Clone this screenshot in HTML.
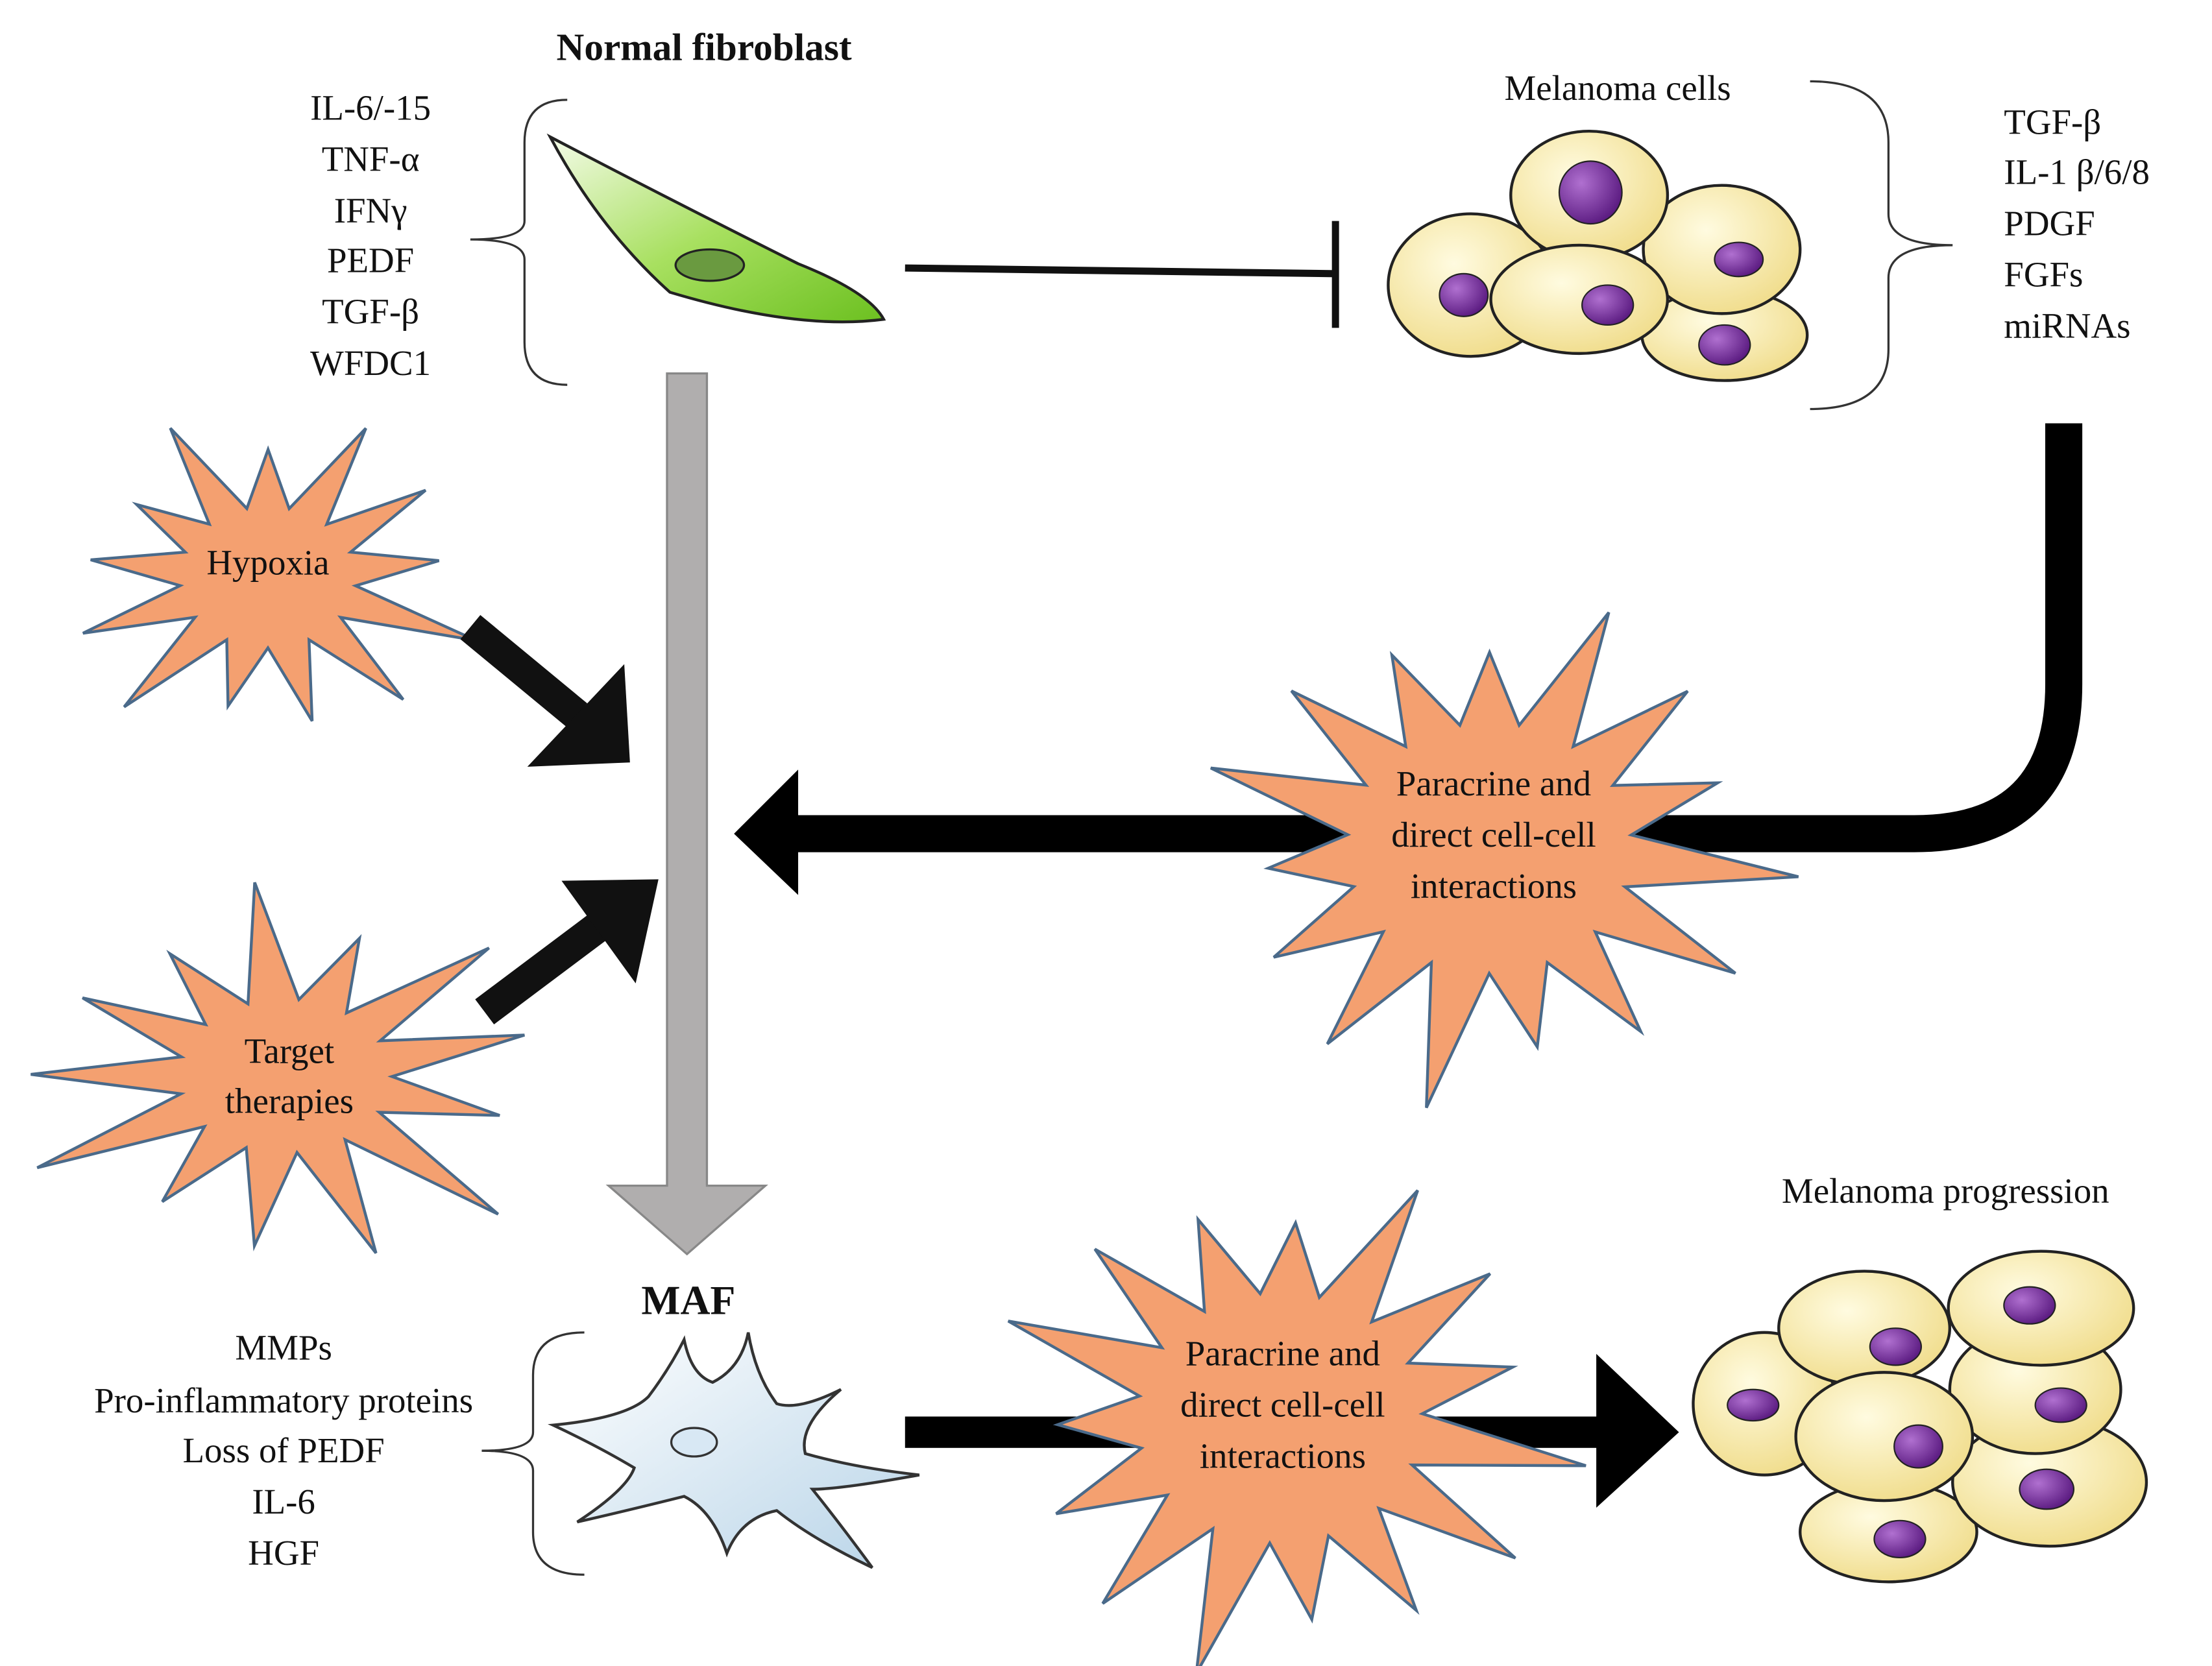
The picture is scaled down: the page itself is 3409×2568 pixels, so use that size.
<!DOCTYPE html>
<html><head><meta charset="utf-8"><style>
html,body{margin:0;padding:0;background:#fff}
svg{display:block}
text{font-family:"Liberation Serif",serif;fill:#111}
</style></head><body>
<svg id="s" width="3409" height="2568" viewBox="0 0 1552 1169" xmlns="http://www.w3.org/2000/svg">
<defs>
<linearGradient id="gr" x1="0" y1="0" x2="1" y2="1"><stop offset="0" stop-color="#f4fbe8"/><stop offset="0.5" stop-color="#a8e060"/><stop offset="1" stop-color="#6cc020"/></linearGradient>
<linearGradient id="bl" x1="0" y1="0" x2="1" y2="1"><stop offset="0" stop-color="#ffffff"/><stop offset="1" stop-color="#b8d4e8"/></linearGradient>
<radialGradient id="cell" cx="0.4" cy="0.35" r="0.7"><stop offset="0" stop-color="#fffbe0"/><stop offset="1" stop-color="#f0dc8a"/></radialGradient>
<radialGradient id="nuc" cx="0.35" cy="0.35" r="0.7"><stop offset="0" stop-color="#b070d0"/><stop offset="1" stop-color="#5a1a80"/></radialGradient>
</defs>
<g id="stars"></g>
<text x="494" y="42" font-size="27" font-weight="bold" text-anchor="middle">Normal fibroblast</text>
<g font-size="25" text-anchor="middle">
<text x="260" y="84">IL-6/-15</text><text x="260" y="120">TNF-α</text><text x="260" y="156">IFNγ</text>
<text x="260" y="191">PEDF</text><text x="260" y="227">TGF-β</text><text x="260" y="263">WFDC1</text>
</g>
<path d="M398,70 Q368,70 368,100 L368,155 Q368,168 330,168 Q368,168 368,182 L368,240 Q368,270 398,270" fill="none" stroke="#333" stroke-width="1.5"/>
<path d="M386,96 Q470,140 560,185 Q610,205 620,224 Q560,232 470,205 Q420,160 386,96 Z" fill="url(#gr)" stroke="#222" stroke-width="2"/>
<ellipse cx="498" cy="186" rx="24" ry="11" fill="#6a9a40" stroke="#222" stroke-width="1.5"/>
<line x1="635" y1="188" x2="937" y2="192" stroke="#111" stroke-width="5"/>
<line x1="937" y1="155" x2="937" y2="230" stroke="#111" stroke-width="5"/>
<text x="1135" y="70" font-size="25" text-anchor="middle">Melanoma cells</text>
<g stroke="#222" stroke-width="2" fill="url(#cell)">
<ellipse cx="1210" cy="235" rx="58" ry="32"/>
<ellipse cx="1208" cy="175" rx="55" ry="45"/>
<ellipse cx="1032" cy="200" rx="58" ry="50"/>
<ellipse cx="1115" cy="137" rx="55" ry="45"/>
<ellipse cx="1108" cy="210" rx="62" ry="38"/>
</g>
<g fill="url(#nuc)" stroke="#222">
<ellipse cx="1116" cy="135" rx="22" ry="22"/><ellipse cx="1220" cy="182" rx="17" ry="12"/>
<ellipse cx="1027" cy="207" rx="17" ry="15"/><ellipse cx="1128" cy="214" rx="18" ry="14"/><ellipse cx="1210" cy="242" rx="18" ry="14"/>
</g>
<path d="M1270,57 Q1325,57 1325,100 L1325,150 Q1325,172 1370,172 Q1325,172 1325,195 L1325,245 Q1325,287 1270,287" fill="none" stroke="#333" stroke-width="1.5"/>
<g font-size="25">
<text x="1406" y="94">TGF-β</text><text x="1406" y="129">IL-1 β/6/8</text><text x="1406" y="165">PDGF</text>
<text x="1406" y="201">FGFs</text><text x="1406" y="237">miRNAs</text>
</g>
<path d="M468,262 L496,262 L496,832 L537,832 L482,880 L427,832 L468,832 Z" fill="#b0aeae" stroke="#888" stroke-width="1.5"/>
<path d="M1448,297 L1448,480 Q1448,585 1343,585 L555,585" fill="none" stroke="#000" stroke-width="26"/>
<polygon points="515,585 560,540 560,628" fill="#000"/>
<line x1="330" y1="440" x2="405" y2="502" stroke="#111" stroke-width="22"/>
<polygon points="442,535 370,538 438,466" fill="#111"/>
<line x1="340" y1="710" x2="420" y2="650" stroke="#111" stroke-width="22"/>
<polygon points="462,617 446,690 394,618" fill="#111"/>
<rect x="635" y="994" width="490" height="22" fill="#000"/>
<polygon points="1120,950 1178,1005 1120,1058" fill="#000"/>
<g id="stars2"></g>
<text x="483" y="922" font-size="29" font-weight="bold" text-anchor="middle">MAF</text>
<g font-size="25" text-anchor="middle">
<text x="199" y="954">MMPs</text><text x="199" y="991">Pro-inflammatory proteins</text><text x="199" y="1026">Loss of PEDF</text>
<text x="199" y="1062">IL-6</text><text x="199" y="1098">HGF</text>
</g>
<path d="M410,935 Q374,935 374,965 L374,1005 Q374,1018 338,1018 Q374,1018 374,1032 L374,1075 Q374,1105 410,1105" fill="none" stroke="#333" stroke-width="1.5"/>
<path d="M388,1000 Q440,995 455,980 Q470,960 480,940 Q485,965 500,970 Q520,960 525,935 Q530,965 545,985 Q560,990 590,975 Q560,1000 565,1020 Q600,1030 645,1035 Q590,1045 570,1045 Q590,1070 612,1100 Q570,1080 545,1060 Q520,1065 510,1090 Q500,1060 480,1050 Q440,1060 405,1068 Q440,1045 445,1030 Q420,1015 388,1000 Z" fill="url(#bl)" stroke="#333" stroke-width="2"/>
<ellipse cx="487" cy="1012" rx="16" ry="10" fill="#d8e8f4" stroke="#333" stroke-width="1.5"/>
<text x="1365" y="844" font-size="25" text-anchor="middle">Melanoma progression</text>
<g stroke="#222" stroke-width="2" fill="url(#cell)">
<ellipse cx="1325" cy="1075" rx="62" ry="35"/>
<ellipse cx="1438" cy="1040" rx="68" ry="45"/>
<ellipse cx="1238" cy="985" rx="50" ry="50"/>
<ellipse cx="1428" cy="975" rx="60" ry="45"/>
<ellipse cx="1308" cy="932" rx="60" ry="40"/>
<ellipse cx="1432" cy="918" rx="65" ry="40"/>
<ellipse cx="1322" cy="1008" rx="62" ry="45"/>
</g>
<g fill="url(#nuc)" stroke="#222">
<ellipse cx="1330" cy="945" rx="18" ry="13"/><ellipse cx="1424" cy="916" rx="18" ry="13"/><ellipse cx="1230" cy="986" rx="18" ry="11"/>
<ellipse cx="1446" cy="986" rx="18" ry="12"/><ellipse cx="1346" cy="1015" rx="17" ry="15"/><ellipse cx="1436" cy="1045" rx="19" ry="14"/><ellipse cx="1333" cy="1080" rx="18" ry="13"/>
</g>
<g font-size="25" text-anchor="middle">
<text x="188" y="403">Hypoxia</text>
<text x="203" y="746">Target</text><text x="203" y="781">therapies</text>
<text x="1048" y="558">Paracrine and</text><text x="1048" y="594">direct cell-cell</text><text x="1048" y="630">interactions</text>
<text x="900" y="958">Paracrine and</text><text x="900" y="994">direct cell-cell</text><text x="900" y="1030">interactions</text>
</g>
<script>
function star(g,cx,cy,ro,ri,n,rot,sy){
 var p=[];for(var i=0;i<2*n;i++){var a=rot+Math.PI*i/n;var r=(i%2==0)?ro*(0.8+0.35*((i*37%11)/11)):ri;p.push((cx+r*Math.cos(a)).toFixed(1)+","+(cy+sy*r*Math.sin(a)).toFixed(1));}
 var e=document.createElementNS("http://www.w3.org/2000/svg","polygon");e.setAttribute("points",p.join(" "));e.setAttribute("fill","#f4a070");e.setAttribute("stroke","#4a6a8a");e.setAttribute("stroke-width","2");document.getElementById(g).appendChild(e);}
star("stars",188,405,140,62,13,-1.57,0.8);
star("stars",200,755,180,75,13,-1.2,0.72);
star("stars2",1045,595,195,100,15,-1.57,0.88);
star("stars2",898,995,195,100,15,-1.5,0.88);
</script>
</svg>
</body></html>
